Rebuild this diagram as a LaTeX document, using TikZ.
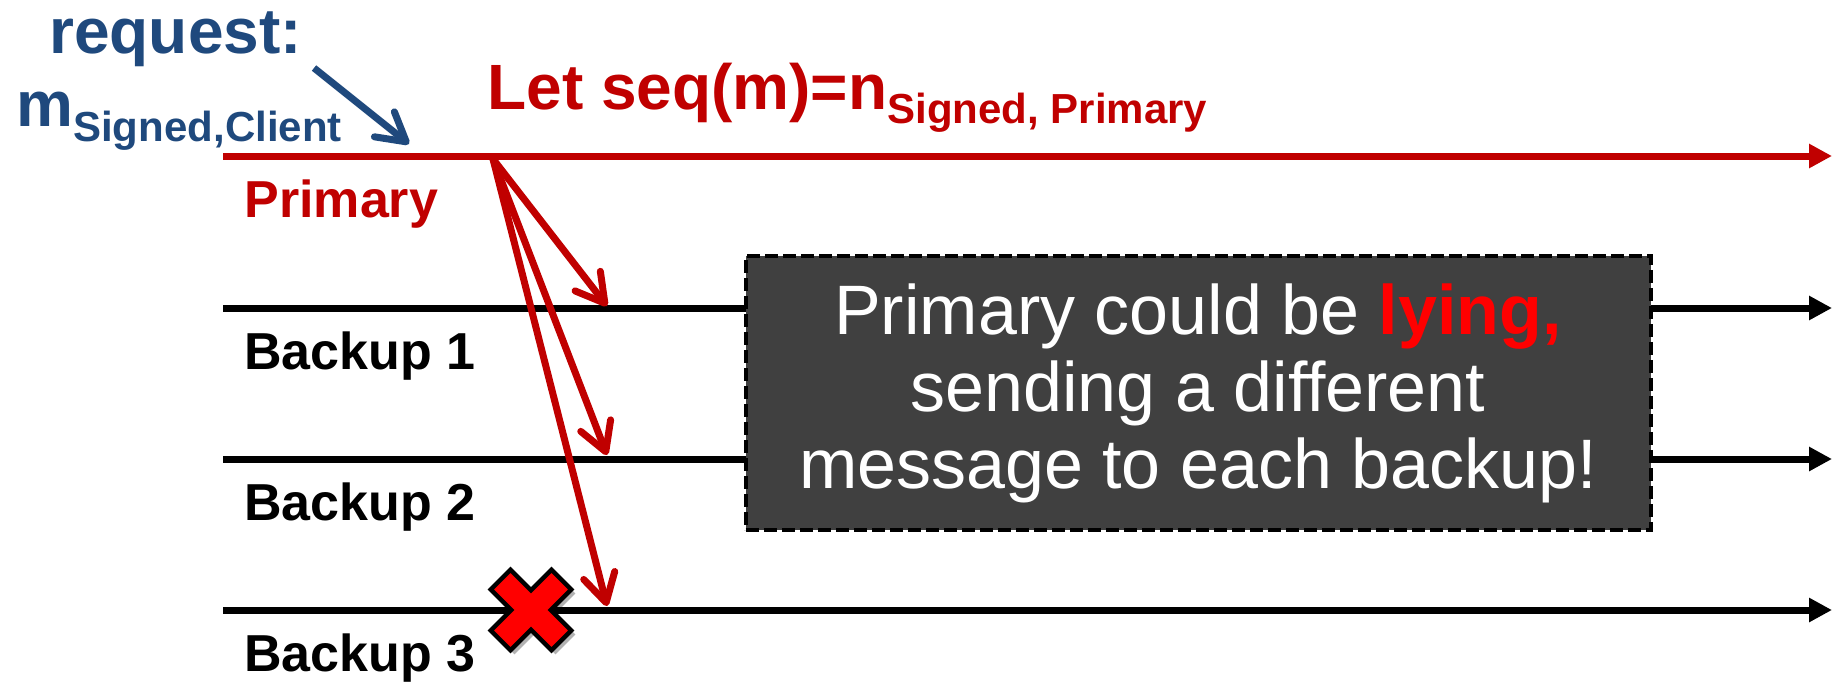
\documentclass[tikz,border=0pt]{standalone}
\usepackage{fontspec}
\setmainfont{Liberation Sans}
\usetikzlibrary{arrows.meta}
\definecolor{dkred}{HTML}{C00000}
\definecolor{dkblue}{HTML}{1F497D}
\definecolor{boxgray}{HTML}{404040}
\begin{document}
\begin{tikzpicture}[x=0.5pt,y=-0.5pt,
  timeline/.style={line width=3.5pt,-{Triangle[length=11.5pt,width=11.5pt]}},
  msgarrow/.style={line width=3.5pt,dkred,-{Straight Barb[length=14pt,width=16pt,round]}},
  reqarrow/.style={line width=3.5pt,dkblue,-{Straight Barb[length=14pt,width=16pt,round]}},
  lbl/.style={anchor=base west,inner sep=0pt,font=\fontsize{26}{30}\selectfont\bfseries},
  big/.style={anchor=base west,inner sep=0pt,font=\fontsize{32}{36}\selectfont\bfseries},
  note/.style={fill=boxgray,draw=black,line width=2pt,dash pattern=on 6.5pt off 2.5pt,
    minimum width=452.5pt,minimum height=137pt,inner sep=0pt,text=white,align=center,
    font=\fontsize{35}{38.5}\selectfont},
  cross/.style={fill=red,draw=black,line width=2.2pt,line join=miter},
  crossshadow/.style={fill=black,opacity=0.3,draw=none}
  ]
\useasboundingbox (0,0) rectangle (1839,681);
% time lines
\coordinate (pS) at (223,156); \coordinate (pE) at (1832,156);
\coordinate (b1S) at (223,308); \coordinate (b1E) at (1832,308);
\coordinate (b2S) at (223,459); \coordinate (b2E) at (1832,459);
\coordinate (b3S) at (223,610); \coordinate (b3E) at (1832,610);
\draw[timeline,dkred] (pS) -- (pE);
\draw[timeline,black] (b1S) -- (b1E);
\draw[timeline,black] (b2S) -- (b2E);
\draw[timeline,black] (b3S) -- (b3E);
% labels
\node[lbl,text=dkred] (lp) at (244,217) {Primary};
\node[lbl] (l1) at (244,369) {Backup 1};
\node[lbl] (l2) at (244,520) {Backup 2};
\node[lbl] (l3) at (244,671) {Backup 3};
% request
\node[big,text=dkblue] (req) at (49,53) {request:};
\node[big,text=dkblue] (msg) at (16,126) {m\raisebox{-7.5pt}{\fontsize{21}{24}\selectfont Signed,Client}};
\coordinate (rq1) at (314,68); \coordinate (rq2) at (409,144);
\draw[reqarrow] (rq1) -- (rq2);
% let seq
\node[big,text=dkred] (let) at (487,109) {Let seq(m)=n\raisebox{-7pt}{\fontsize{21}{24}\selectfont Signed, Primary}};
% messages
\coordinate (send) at (493,159);
\coordinate (r1) at (607,306);
\coordinate (r2) at (607,455);
\coordinate (r3) at (607,606);
\draw[msgarrow] (send) -- (r1);
\draw[msgarrow] (send) -- (r2);
\draw[msgarrow] (send) -- (r3);
% note box
\node[note] (box) at (1198,393) {Primary could be \textcolor{red}{\bfseries lying,}\\sending a different\\message to each backup!};
% red cross
\path[crossshadow,shift={(535,614)},rotate=45] (43,14) -- (14,14) -- (14,43) -- (-14,43) -- (-14,14) -- (-43,14) -- (-43,-14) -- (-14,-14) -- (-14,-43) -- (14,-43) -- (14,-14) -- (43,-14) -- cycle;
\draw[cross,shift={(531,610)},rotate=45] (43,14) -- (14,14) -- (14,43) -- (-14,43) -- (-14,14) -- (-43,14) -- (-43,-14) -- (-14,-14) -- (-14,-43) -- (14,-43) -- (14,-14) -- (43,-14) -- cycle;
\end{tikzpicture}
\end{document}
